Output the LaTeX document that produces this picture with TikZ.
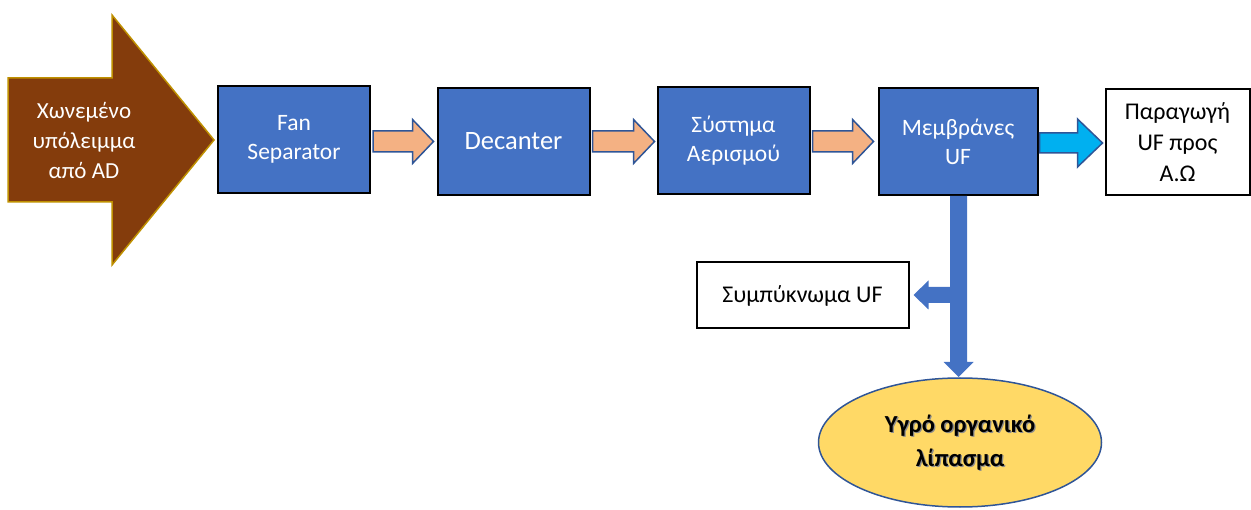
\documentclass[tikz,border=0pt]{standalone}
\usepackage{fontspec}
\setmainfont{Carlito}
\usetikzlibrary{calc,shapes.geometric}
\definecolor{boxblue}{HTML}{4472C4}
\definecolor{edgeblue}{HTML}{2F5597}
\definecolor{peach}{HTML}{F4B183}
\definecolor{skyc}{HTML}{00B0F0}
\definecolor{brownin}{HTML}{843C0C}
\definecolor{goldedge}{HTML}{BF9000}
\definecolor{ellfill}{HTML}{FFD966}
\tikzset{
  x=1pt,y=1pt,
  bluebox/.style={draw=black,line width=2pt,fill=boxblue,text=white,align=center,font=\fontsize{23.5}{29}\selectfont,inner sep=0pt},
  whitebox/.style={draw=black,line width=2pt,fill=white,text=black,align=center,font=\fontsize{24}{31}\selectfont,inner sep=0pt},
  peacharrow/.style={fill=peach,draw=edgeblue,line width=1.5pt,line join=miter},
  skyarrow/.style={fill=skyc,draw=edgeblue,line width=1.5pt,line join=miter},
  feedarrow/.style={fill=boxblue,draw=none},
  bigtext/.style={align=center,font=\bfseries\fontsize{24.5}{34}\selectfont},
}
% horizontal block arrow: from point #1 to point #2 (right or left), body half, head half, head length
\newcommand\hblockarr[6]{%
  \path[#6] let \p1=(#1), \p2=(#2), \n1={sign(\x2-\x1)} in
    (\x1,\y1+#3) -- (\x2-\n1*#5,\y1+#3) -- (\x2-\n1*#5,\y1+#4) -- (\x2,\y1)
    -- (\x2-\n1*#5,\y1-#4) -- (\x2-\n1*#5,\y1-#3) -- (\x1,\y1-#3) -- cycle;}
\newcommand\vblockarr[6]{%
  \path[#6] let \p1=(#1), \p2=(#2) in
    (\x1-#3,\y1) -- (\x1-#3,\y2+#5) -- (\x1-#4,\y2+#5) -- (\x1,\y2)
    -- (\x1+#4,\y2+#5) -- (\x1+#3,\y2+#5) -- (\x1+#3,\y1) -- cycle;}
\begin{document}
\begin{tikzpicture}
\useasboundingbox (0,0) rectangle (1251,509);
% input big arrow
\path[fill=brownin,draw=goldedge,line width=1.5pt]
  (8,431) -- (112,431) -- (112,494) -- (214,369) -- (112,244) -- (112,307) -- (8,307) -- cycle;
\node[text=white,align=center,font=\fontsize{23}{30}\selectfont] (in) at (84,369) {Χωνεμένο\\υπόλειμμα\\από AD};
% boxes
\node[bluebox,minimum width=152,minimum height=107] (fan) at (294,369.5) {Fan\\Separator};
\node[bluebox,minimum width=152,minimum height=107,font=\fontsize{26.5}{30}\selectfont] (dec) at (513.5,367.5) {Decanter};
\node[bluebox,minimum width=152,minimum height=107] (aer) at (733.5,368) {Σύστημα\\Αερισμού};
\node[bluebox,minimum width=159,minimum height=107] (uf) at (958,367) {Μεμβράνες\\UF};
\node[whitebox,minimum width=144,minimum height=106] (prod) at (1177.5,367) {Παραγωγή\\UF προς\\Α.Ω};
\node[whitebox,minimum width=212,minimum height=66] (conc) at (802.5,213.5) {Συμπύκνωμα UF};
\node[ellipse,draw=edgeblue,line width=1.5pt,fill=ellfill,minimum width=283,minimum height=129,inner sep=0pt] (fert) at (960,66.5) {};
\node[bigtext,text=black!45] (fertsh) at ([xshift=1.3,yshift=-1.6]fert.center) {Υγρό οργανικό\\λίπασμα};
\node[bigtext,text=black] (fertt) at (fert.center) {Υγρό οργανικό\\λίπασμα};
% connectors
\coordinate (a1) at ([xshift=2]fan.east|-0,367.5);
\coordinate (b1) at ([xshift=-3]dec.west|-0,367.5);
\hblockarr{a1}{b1}{10.5}{22}{21}{peacharrow}
\coordinate (a2) at ([xshift=2]dec.east|-0,367.5);
\coordinate (b2) at ([xshift=-2]aer.west|-0,367.5);
\hblockarr{a2}{b2}{10.5}{22}{21}{peacharrow}
\coordinate (a3) at ([xshift=2]aer.east|-0,367.5);
\coordinate (b3) at ([xshift=-4]uf.west|-0,367.5);
\hblockarr{a3}{b3}{10.5}{22}{21}{peacharrow}
\coordinate (a4) at ([xshift=1]uf.east|-0,366);
\coordinate (b4) at ([xshift=-2]prod.west|-0,366);
\hblockarr{a4}{b4}{10}{24}{25}{skyarrow}
% vertical outlet
\coordinate (v0) at (958.5,313);
\coordinate (v1) at (958.5,132);
\vblockarr{v0}{v1}{8.5}{15}{15}{feedarrow}
\coordinate (h0) at (958.5,214);
\coordinate (h1) at ([xshift=4]conc.east|-0,214);
\hblockarr{h0}{h1}{8}{14.5}{15}{feedarrow}
\end{tikzpicture}
\end{document}
